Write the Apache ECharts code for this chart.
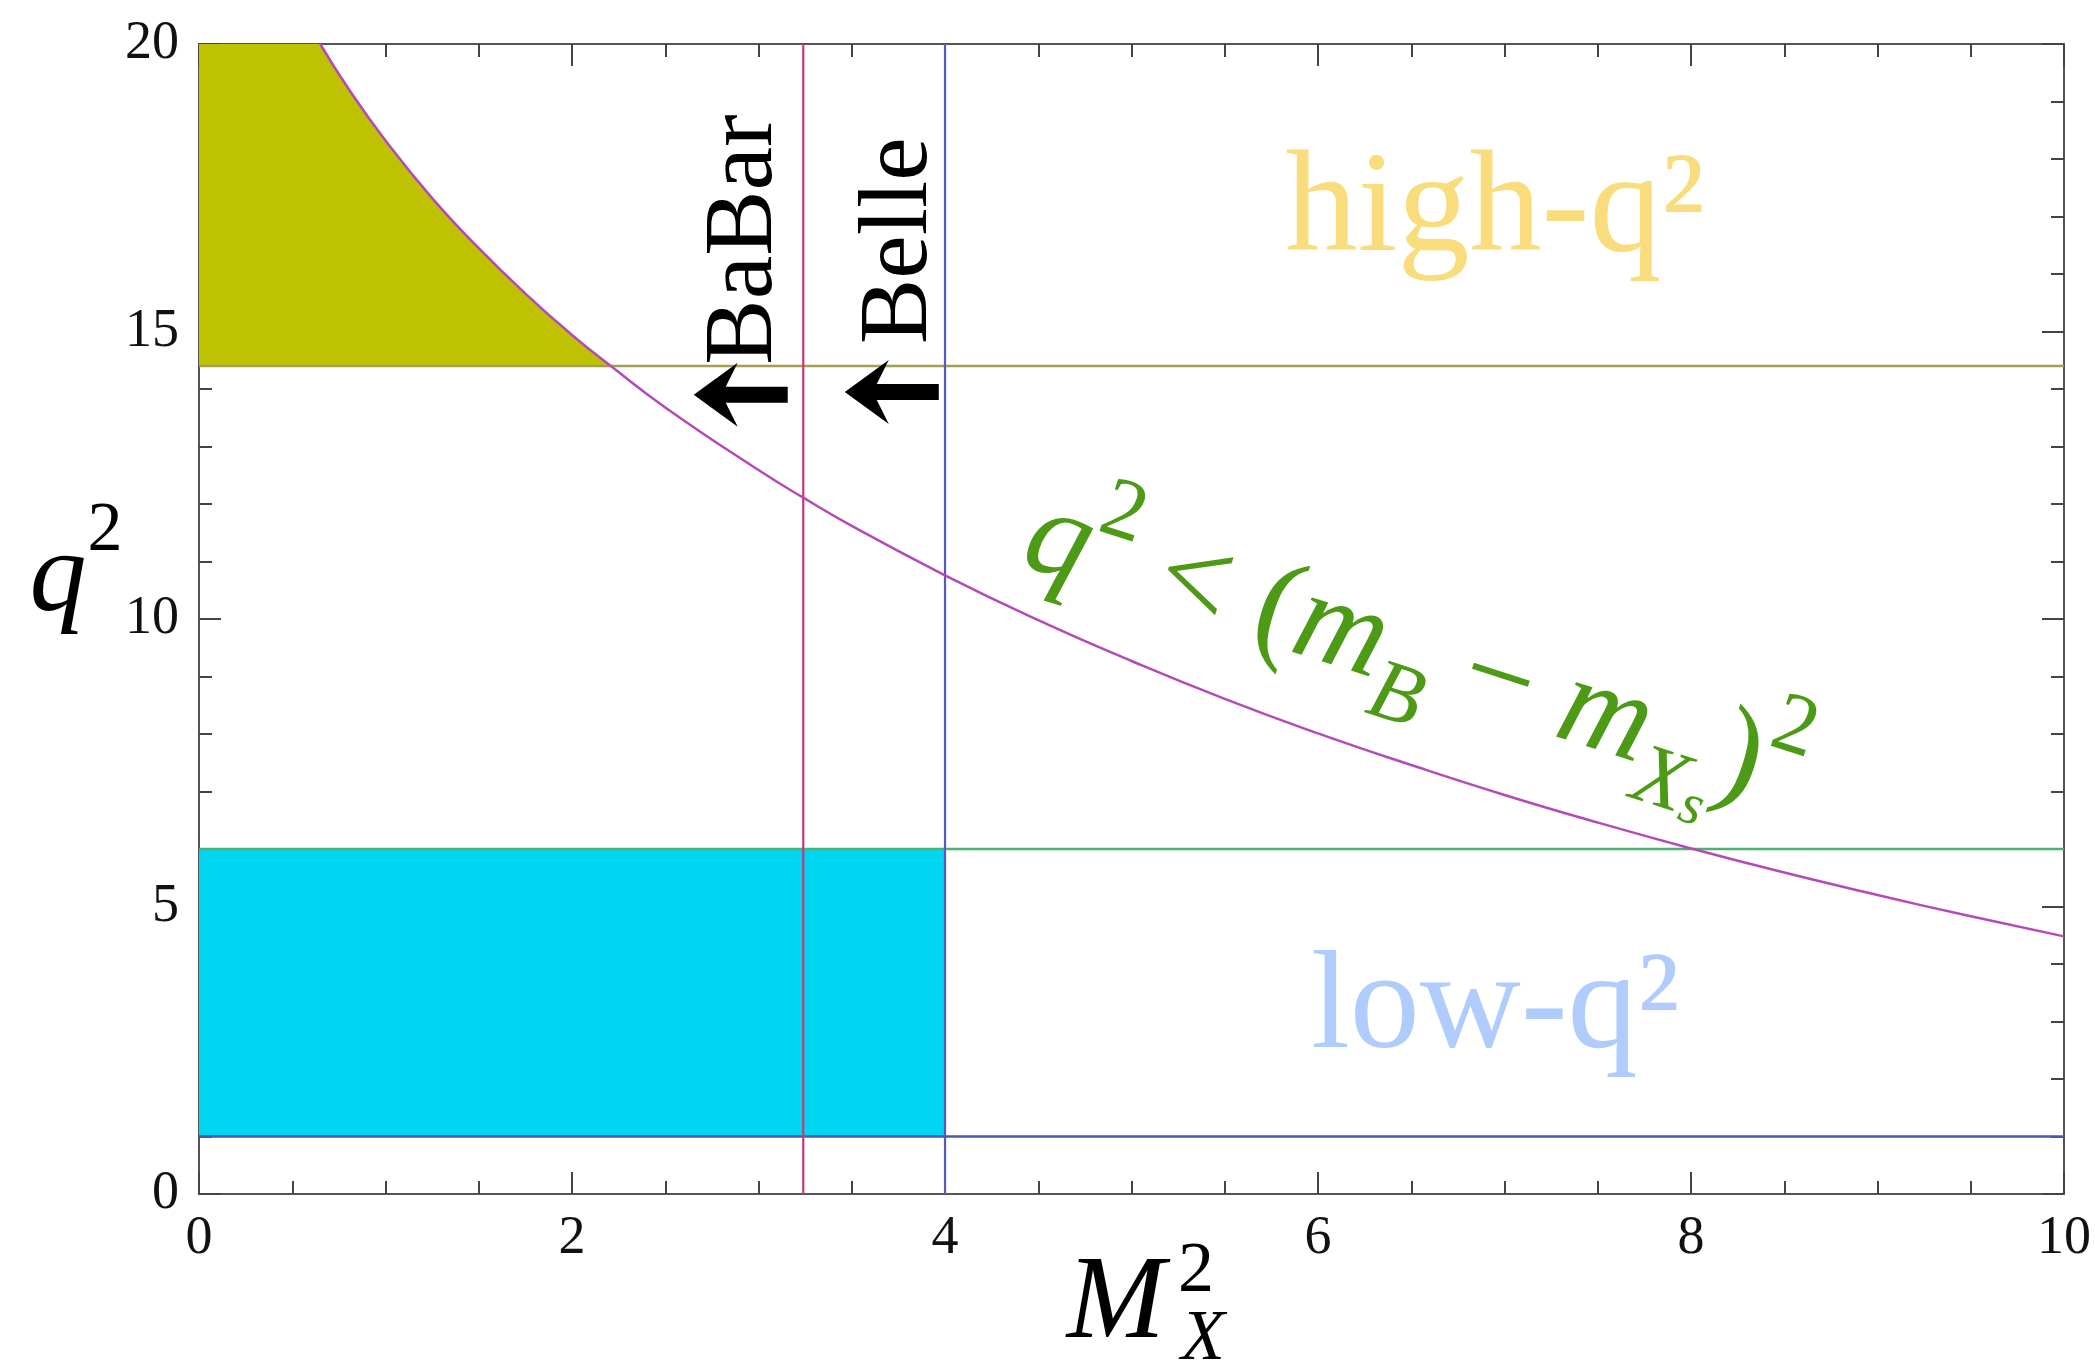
<!DOCTYPE html>
<html>
<head>
<meta charset="utf-8">
<script src="https://cdn.jsdelivr.net/npm/echarts@6/dist/echarts.min.js"></script>
<style>
  html, body { margin: 0; padding: 0; background: #ffffff; }
  #main { width: 2095px; height: 1372px; }
</style>
</head>
<body>
<div id="main"></div>
<script>
// Kinematic boundary q^2 = (m_B - M_X)^2 sampled in M_X^2
const boundaryMx2 = [0.65, 0.8, 1.0, 1.25, 1.5, 1.75, 2.0, 2.2, 2.5, 3.0, 3.24, 3.5, 4.0, 4.5, 5.0, 5.5, 6.0, 6.5, 7.0, 7.5, 8.0, 8.5, 9.0, 9.5, 10.0];
const boundaryQ2  = [20.0, 19.23, 18.32, 17.32, 16.45, 15.66, 14.94, 14.42, 13.68, 12.59, 12.11, 11.62, 10.76, 9.98, 9.27, 8.61, 8.01, 7.46, 6.94, 6.46, 6.01, 5.59, 5.20, 4.83, 4.48];

// Cut values
const highQ2Cut = 14.4;
const lowQ2Range = [1, 6];
const babarMx2Cut = 3.24;
const belleMx2Cut = 4.0;

// Axis ranges and tick labels
const xRange = [0, 10];
const yRange = [0, 20];
const xTickLabels = ['0', '2', '4', '6', '8', '10'];
const yTickLabels = ['0', '5', '10', '15', '20'];

const serif = '"Liberation Serif", "DejaVu Serif", serif';

const chart = echarts.init(document.getElementById('main'), null, { renderer: 'canvas' });

const curveData = boundaryMx2.map((x, i) => [x, boundaryQ2[i]]);

// High-q^2 region (above the cut and below the boundary)
const highRegion = [[0, highQ2Cut], [0, yRange[1]]];
curveData.forEach(p => { if (p[1] >= highQ2Cut) highRegion.push(p); });
highRegion.push([curveData.find(p => p[1] < highQ2Cut + 0.1)[0], highQ2Cut]);

function polygonSeries(points, color, z) {
  return {
    type: 'custom',
    coordinateSystem: 'cartesian2d',
    z: z,
    silent: true,
    data: [0],
    renderItem: function (params, api) {
      return {
        type: 'polygon',
        shape: { points: points.map(p => api.coord(p)) },
        style: { fill: color, stroke: null }
      };
    }
  };
}

const lowRegion = [[0, lowQ2Range[0]], [belleMx2Cut, lowQ2Range[0]], [belleMx2Cut, lowQ2Range[1]], [0, lowQ2Range[1]]];

function hLine(y, color) {
  return { type: 'line', data: [[xRange[0], y], [xRange[1], y]], symbol: 'none', silent: true, z: 4,
    lineStyle: { color: color, width: 2.4 }, animation: false };
}
function vLine(x, color) {
  return { type: 'line', data: [[x, yRange[0]], [x, yRange[1]]], symbol: 'none', silent: true, z: 4,
    lineStyle: { color: color, width: 2.2 }, animation: false };
}

const axisCommon = {
  type: 'value',
  axisLine: { show: true, onZero: false, lineStyle: { color: '#555', width: 2 } },
  axisTick: { show: true, inside: true, length: 22, lineStyle: { color: '#444', width: 2 } },
  minorTick: { show: true, splitNumber: 4, length: 13, lineStyle: { color: '#444', width: 2 } },
  splitLine: { show: false },
  axisLabel: { fontFamily: serif, fontSize: 54, color: '#111' }
};

chart.setOption({
  animation: false,
  backgroundColor: '#ffffff',
  grid: { left: 199, right: 31, top: 44, bottom: 178 },
  xAxis: [
    Object.assign({}, axisCommon, { position: 'bottom', min: xRange[0], max: xRange[1], interval: 2,
      axisLabel: Object.assign({}, axisCommon.axisLabel, { margin: 18,
        formatter: v => xTickLabels[Math.round(v / 2)] }) }),
    Object.assign({}, axisCommon, { position: 'top', min: xRange[0], max: xRange[1], interval: 2,
      axisLabel: { show: false } })
  ],
  yAxis: [
    Object.assign({}, axisCommon, { position: 'left', min: yRange[0], max: yRange[1], interval: 5,
      minorTick: Object.assign({}, axisCommon.minorTick, { splitNumber: 5 }),
      axisLabel: Object.assign({}, axisCommon.axisLabel, { margin: 20,
        formatter: v => yTickLabels[Math.round(v / 5)] }) }),
    Object.assign({}, axisCommon, { position: 'right', min: yRange[0], max: yRange[1], interval: 5,
      minorTick: Object.assign({}, axisCommon.minorTick, { splitNumber: 5 }),
      axisLabel: { show: false } })
  ],
  series: [
    polygonSeries(lowRegion, '#00d5f2', 1),
    polygonSeries(highRegion, '#bec200', 1),
    hLine(highQ2Cut, '#a29e52'),
    hLine(lowQ2Range[1], '#4cb272'),
    hLine(lowQ2Range[0], '#4a58b0'),
    vLine(babarMx2Cut, '#c23a7a'),
    vLine(belleMx2Cut, '#5858c0'),
    {
      type: 'line', data: curveData, smooth: true, symbol: 'none', silent: true, z: 5,
      lineStyle: { color: '#b44ab8', width: 2.5 }
    }
  ]
});

// Annotations, anchored in data coordinates
function px(x, y) { return chart.convertToPixel({ xAxisIndex: 0, yAxisIndex: 0 }, [x, y]); }

const arrowPts = [[-48, 0], [-4, -32], [-16, -8], [46, -8], [46, 8], [-16, 8], [-4, 32]];
function arrowAt(x, y) {
  const c = px(x, y);
  return { type: 'polygon', z: 50, shape: { points: arrowPts.map(p => [c[0] + p[0], c[1] + p[1]]) },
    style: { fill: '#000' } };
}
function textAt(x, y, opts) {
  const c = px(x, y);
  return Object.assign({ type: 'text', z: 50, x: c[0], y: c[1] }, opts);
}

const green = '#4c9a16';
const graphics = [
  textAt(6.95, 17.08, { style: { text: 'high-q²', font: '400 144px ' + serif, fill: '#f9dc7c',
    align: 'center', verticalAlign: 'middle' } }),
  textAt(6.95, 3.2, { style: { text: 'low-q²', font: '400 140px ' + serif, fill: '#b0ccfc',
    align: 'center', verticalAlign: 'middle' } }),
  textAt(2.93, 16.6, { rotation: Math.PI / 2, style: { text: 'BaBar', font: '400 98px ' + serif, fill: '#000',
    align: 'center', verticalAlign: 'middle' } }),
  textAt(3.76, 16.58, { rotation: Math.PI / 2, style: { text: 'Belle', font: '400 98px ' + serif, fill: '#000',
    align: 'center', verticalAlign: 'middle' } }),
  arrowAt(2.91, 13.9),
  arrowAt(3.72, 13.95),
  textAt(6.52, 9.35, { rotation: -0.31, style: {
    text: '{i|q}{sup|2}{n| < (}{i|m}{sub|B}{n| − }{i|m}{sub|X}{subsub|s}{n|)}{sup|2}',
    align: 'center', verticalAlign: 'middle', fill: green,
    rich: {
      i: { font: 'italic 400 126px ' + serif, fill: green, lineHeight: 178, verticalAlign: 'middle' },
      n: { font: '400 126px ' + serif, fill: green, lineHeight: 178, verticalAlign: 'middle' },
      sup: { font: '400 86px ' + serif, fill: green, lineHeight: 94, verticalAlign: 'top' },
      sub: { font: 'italic 400 86px ' + serif, fill: green, lineHeight: 94, verticalAlign: 'bottom' },
      subsub: { font: 'italic 400 58px ' + serif, fill: green, lineHeight: 48, verticalAlign: 'bottom' }
    } } }),
  // axis titles
  { type: 'text', z: 50, x: 58, y: 580, style: { text: 'q', font: 'italic 400 114px ' + serif, fill: '#000',
    align: 'center', verticalAlign: 'middle' } },
  { type: 'text', z: 50, x: 105, y: 532, style: { text: '2', font: '400 70px ' + serif, fill: '#000',
    align: 'center', verticalAlign: 'middle' } },
  { type: 'text', z: 50, x: 1116, y: 1306, style: { text: 'M', font: 'italic 400 118px ' + serif, fill: '#000',
    align: 'center', verticalAlign: 'middle' } },
  { type: 'text', z: 50, x: 1196, y: 1272, style: { text: '2', font: '400 72px ' + serif, fill: '#000',
    align: 'center', verticalAlign: 'middle' } },
  { type: 'text', z: 50, x: 1203, y: 1340, style: { text: 'X', font: 'italic 400 72px ' + serif, fill: '#000',
    align: 'center', verticalAlign: 'middle' } }
];
chart.setOption({ graphic: graphics });
</script>
</body>
</html>
